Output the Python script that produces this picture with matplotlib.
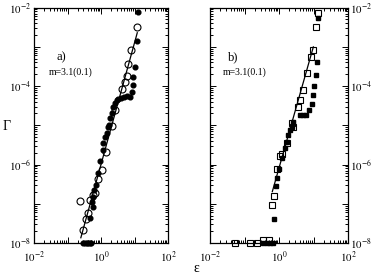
import numpy as np
import matplotlib
matplotlib.use("Agg")
import matplotlib.pyplot as plt
from matplotlib.ticker import LogLocator, FuncFormatter, NullFormatter

plt.rcParams['font.family'] = ['Liberation Serif', 'DejaVu Serif']
plt.rcParams['mathtext.fontset'] = 'stix'

# panel a) open circles
a_open_x = [11.6, 7.7, 6.5, 5.85, 5.2, 4.15, 2.6, 2.08, 1.41, 1.09, 0.80, 0.66, 0.59,
            0.236, 0.47, 0.42, 0.35, 0.30]
a_open_y = [3.1e-3, 8.3e-4, 3.6e-4, 1.8e-4, 1.3e-4, 8.2e-5, 2.5e-5, 9.6e-6, 2.1e-6, 7.2e-7,
            4.2e-7, 1.85e-7, 1.67e-7, 1.2e-7, 1.25e-7, 5.7e-8, 4.1e-8, 2.2e-8]
# panel a) filled circles
a_fill_x = [13.0, 11.6, 10.4, 9.2, 8.8, 8.2, 7.3, 5.97, 4.86, 3.95, 3.2, 2.94, 2.62, 2.33,
            2.08, 1.86, 1.77, 1.65, 1.48, 1.32, 1.17, 1.12, 0.93, 0.83, 0.71, 0.63, 0.59,
            0.55, 0.59, 0.47, 0.30, 0.34, 0.38, 0.42, 0.47, 0.52]
a_fill_y = [7.8e-3, 1.43e-3, 3.1e-4, 1.67e-4, 1.06e-4, 7.2e-5, 5.3e-5, 5.5e-5, 5.3e-5, 5.0e-5,
            4.8e-5, 4.4e-5, 3.6e-5, 3.0e-5, 2.0e-5, 1.5e-5, 1.0e-5, 9.2e-6, 6.2e-6, 5.1e-6,
            3.5e-6, 2.3e-6, 1.25e-6, 6.1e-7, 3.0e-7, 2.2e-7, 1.5e-7, 1.1e-7, 8.1e-8, 4.3e-8,
            1e-8, 1e-8, 1e-8, 1e-8, 1e-8, 1e-8]

# panel b) open squares
b_open_x = [13.2, 11.6, 9.9, 8.5, 6.6, 5.06, 4.06, 3.48, 2.33, 2.5, 1.67, 1.2, 1.07, 0.86,
            0.72, 0.64, 0.053, 0.144, 0.23, 0.35, 0.51]
b_open_y = [7.1e-3, 3.2e-3, 8.3e-4, 5.4e-4, 2.2e-4, 7.9e-5, 4.4e-5, 2.9e-5, 1.16e-5, 8.9e-6,
            3.5e-6, 1.9e-6, 1.65e-6, 7.6e-7, 1.6e-7, 9.3e-8, 1e-8, 1e-8, 1e-8, 1.19e-8, 1.19e-8]
# panel b) filled squares
b_fill_x = [13.8, 12.4, 11.6, 10.3, 9.5, 8.9, 7.55, 6.06, 4.97, 4.06, 2.6, 2.33, 2.08, 1.86,
            1.67, 1.49, 1.2, 1.02, 0.89, 0.80, 0.72, 0.35, 0.45, 0.55, 0.65]
b_fill_y = [5.3e-3, 4.2e-4, 1.9e-4, 1.0e-4, 5.9e-5, 3.5e-5, 2.45e-5, 1.85e-5, 1.82e-5, 1.8e-5,
            1.23e-5, 9.2e-6, 7.6e-6, 5.65e-6, 3.8e-6, 2.6e-6, 1.44e-6, 7.6e-7, 4.4e-7, 2.8e-7,
            4.0e-8, 1e-8, 1e-8, 1e-8, 1e-8]

# power-law fits  Gamma = c * eps^m
fit_m = 3.1
a_fit_logc, a_fit_range = -6.0, (0.25, 12.1)
b_fit_logc, b_fit_range = -6.09, (0.64, 9.9)

fig = plt.figure(figsize=(3.74, 2.76), dpi=100)
ax1 = fig.add_axes([34 / 374, 33 / 276, 134 / 374, 235.5 / 276])
ax2 = fig.add_axes([210 / 374, 33 / 276, 138 / 374, 235.5 / 276])


def even_fmt(v, pos):
    e = int(round(np.log10(v)))
    return r'$10^{%d}$' % e if e % 2 == 0 else ''


for ax in (ax1, ax2):
    ax.set_xscale('log')
    ax.set_yscale('log')
    ax.set_xlim(1e-2, 1e2)
    ax.set_ylim(1e-8, 1e-2)
    ax.xaxis.set_major_locator(LogLocator(base=10, numticks=10))
    ax.yaxis.set_major_locator(LogLocator(base=10, numticks=10))
    ax.xaxis.set_minor_locator(LogLocator(base=10, subs=np.arange(2, 10), numticks=20))
    ax.yaxis.set_minor_locator(LogLocator(base=10, subs=np.arange(2, 10), numticks=20))
    ax.xaxis.set_major_formatter(FuncFormatter(even_fmt))
    ax.yaxis.set_major_formatter(FuncFormatter(even_fmt))
    ax.xaxis.set_minor_formatter(NullFormatter())
    ax.yaxis.set_minor_formatter(NullFormatter())
    ax.tick_params(which='both', direction='in', top=True, right=True, left=True,
                   bottom=True, labelsize=7.8, width=0.7)
    ax.tick_params(axis='y', pad=2.5)
    ax.tick_params(axis='x', pad=5)
    ax.tick_params(which='major', length=4)
    ax.tick_params(which='minor', length=2)
    for s in ax.spines.values():
        s.set_linewidth(0.9)

ax2.tick_params(axis='y', labelleft=False, labelright=True, pad=1.5)

xa = np.array(a_fit_range)
ax1.plot(xa, 10 ** a_fit_logc * xa ** fit_m, color='black', lw=0.9)
ax1.plot(a_fill_x, a_fill_y, 'o', color='black', ms=3.4, clip_on=False)
ax1.plot(a_open_x, a_open_y, 'o', mfc='none', mec='black', mew=0.8, ms=5.0, clip_on=False)

xb = np.array(b_fit_range)
ax2.plot(xb, 10 ** b_fit_logc * xb ** fit_m, color='black', lw=0.9)
ax2.plot(b_fill_x, b_fill_y, 's', color='black', ms=3.0, clip_on=False)
ax2.plot(b_open_x, b_open_y, 's', mfc='none', mec='black', mew=0.8, ms=4.8, clip_on=False)

ax1.text(0.17, 0.775, 'a)', transform=ax1.transAxes, fontsize=9)
ax1.text(0.11, 0.715, 'm=3.1(0.1)', transform=ax1.transAxes, fontsize=7)
ax2.text(0.13, 0.775, 'b)', transform=ax2.transAxes, fontsize=9)
ax2.text(0.09, 0.715, 'm=3.1(0.1)', transform=ax2.transAxes, fontsize=7)

fig.text(7 / 374, 1 - 126 / 276, 'Γ', fontsize=10, ha='center', va='center')
fig.text(196 / 374, 1 - 268 / 276, 'ε', fontsize=10, ha='center', va='center')

fig.savefig('out.png', dpi=100)
